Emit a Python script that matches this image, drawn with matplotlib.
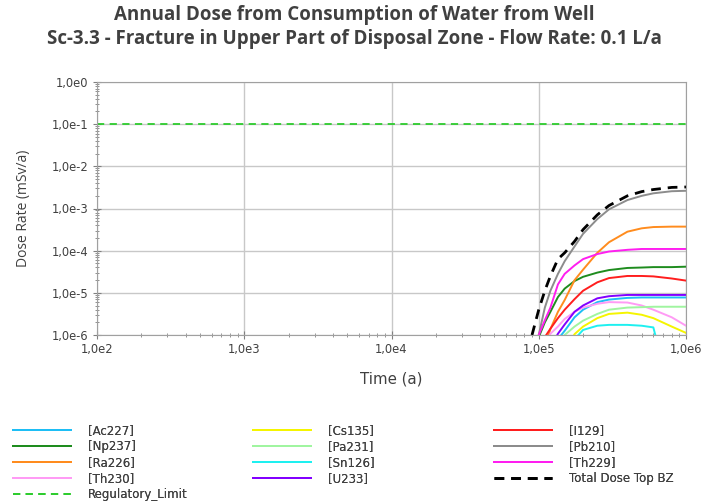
import numpy as np
import matplotlib
matplotlib.use('Agg')
import matplotlib.pyplot as plt
from matplotlib.ticker import LogLocator, FuncFormatter, NullFormatter

# ── Data (exponents of 10) ──────────────────────────────────────────────────
time_a = [9.0e4, 1.0e5, 1.1e5, 1.2e5, 1.35e5, 1.5e5, 1.75e5, 2.0e5,
          2.5e5, 3.0e5, 4.0e5, 5.0e5, 6.0e5, 8.0e5, 1.0e6]

ac227_log = [-9, -8, -7.5, -6.5, -6.1, -5.9, -5.58, -5.4, -5.22, -5.16, -5.12, -5.11, -5.11, -5.11, -5.11]
np237_log = [-7, -6.05, -5.7, -5.45, -5.1, -4.9, -4.72, -4.62, -4.52, -4.46, -4.41, -4.4, -4.39, -4.39, -4.38]
ra226_log = [-8, -7, -6.3, -5.86, -5.45, -5.17, -4.7, -4.45, -4.05, -3.8, -3.55, -3.47, -3.44, -3.43, -3.43]
th230_log = [-9, -8, -6.4, -5.97, -5.8, -5.62, -5.45, -5.35, -5.26, -5.22, -5.23, -5.3, -5.4, -5.58, -5.78]
cs135_log = [-9, -9, -9, -9, -8, -6.4, -5.98, -5.8, -5.6, -5.5, -5.47, -5.52, -5.6, -5.8, -5.95]
pa231_log = [-9, -9, -9, -8, -6.5, -6.0, -5.8, -5.66, -5.5, -5.4, -5.35, -5.34, -5.33, -5.33, -5.33]
sn126_log = [-9, -9, -9, -9, -9, -8, -6.1, -5.88, -5.78, -5.76, -5.76, -5.78, -5.82, -7.5, -9]
u233_log = [-9, -8, -7.5, -6.3, -5.97, -5.75, -5.45, -5.3, -5.13, -5.08, -5.05, -5.05, -5.05, -5.05, -5.05]
i129_log = [-8, -7, -6.05, -5.85, -5.6, -5.4, -5.15, -4.95, -4.75, -4.65, -4.6, -4.6, -4.61, -4.66, -4.71]
pb210_log = [-6.6, -6.0, -5.35, -4.95, -4.55, -4.25, -3.9, -3.6, -3.25, -3.02, -2.8, -2.7, -2.64, -2.59, -2.58]
th229_log = [-7, -6.0, -5.65, -5.35, -4.8, -4.55, -4.35, -4.2, -4.08, -4.02, -3.98, -3.96, -3.96, -3.96, -3.96]
total_log = [-6.0, -5.4, -4.95, -4.6, -4.2, -4.05, -3.78, -3.5, -3.15, -2.93, -2.7, -2.6, -2.55, -2.5, -2.49]

regulatory_limit = 0.1

series = [
    ("[Ac227]", ac227_log, "#1EBEF5"),
    ("[Np237]", np237_log, "#1E8C1E"),
    ("[Ra226]", ra226_log, "#FF8C1E"),
    ("[Th230]", th230_log, "#FF9BF5"),
    ("[Cs135]", cs135_log, "#F5F500"),
    ("[Pa231]", pa231_log, "#A0F5A0"),
    ("[Sn126]", sn126_log, "#1EF0F0"),
    ("[U233]", u233_log, "#8200FF"),
    ("[I129]", i129_log, "#FF1E1E"),
    ("[Pb210]", pb210_log, "#8C8C8C"),
    ("[Th229]", th229_log, "#FF1EF0"),
]

# ── Styling ──────────────────────────────────────────────────────────────────
text_color = "#404040"
grid_color = "#C8C8C8"
plt.rcParams['font.family'] = ['DejaVu Sans']

fig = plt.figure(figsize=(7.05, 5.01), dpi=100)
ax = fig.add_axes([97 / 705, 1 - 335 / 501, (686 - 97) / 705, (335 - 82) / 501])

handles = {}
for name, vals, color in series:
    h, = ax.plot(time_a, 10 ** np.array(vals), color=color, linewidth=1.4)
    handles[name] = h

h_total, = ax.plot(time_a, 10 ** np.array(total_log), color="black",
                   linewidth=2.0, dashes=(3.5, 2.5))
h_reg = ax.axhline(regulatory_limit, color="#2ECC2E", linewidth=1.3, dashes=(4, 3))

ax.set_xscale('log')
ax.set_yscale('log')
ax.set_xlim(1e2, 1e6)
ax.set_ylim(1e-6, 1e0)

fmt = FuncFormatter(lambda v, p: f"1,0e{int(round(np.log10(v)))}")
ax.xaxis.set_major_formatter(fmt)
ax.yaxis.set_major_formatter(fmt)
ax.xaxis.set_minor_locator(LogLocator(base=10, subs=np.arange(2, 10), numticks=20))
ax.yaxis.set_minor_locator(LogLocator(base=10, subs=np.arange(2, 10), numticks=20))
ax.xaxis.set_minor_formatter(NullFormatter())
ax.yaxis.set_minor_formatter(NullFormatter())
ax.tick_params(which='major', direction='inout', length=6, color="#808080",
               labelsize=8.3, labelcolor=text_color, pad=3)
ax.tick_params(which='minor', direction='inout', length=3, color="#808080")
ax.grid(True, which='major', color=grid_color, linewidth=1.0)
for s in ax.spines.values():
    s.set_color("#A0A0A0")

ax.set_xlabel("Time (a)", fontsize=10.8, color=text_color, labelpad=11)
ax.set_ylabel("Dose Rate (mSv/a)", fontsize=10, color=text_color, labelpad=15,
              family='Open Sans')

fig.text(0.503, 0.971, "Annual Dose from Consumption of Water from Well",
         ha='center', va='center', fontsize=13.5, fontweight='bold',
         color=text_color, family='Open Sans')
fig.text(0.503, 0.923, "Sc-3.3 - Fracture in Upper Part of Disposal Zone - Flow Rate: 0.1 L/a",
         ha='center', va='center', fontsize=13.5, fontweight='bold',
         color=text_color, family='Open Sans')

# ── Legend: three fixed columns ──────────────────────────────────────────────
columns = [
    (["[Ac227]", "[Np237]", "[Ra226]", "[Th230]"], [h_reg], ["Regulatory_Limit"], 8),
    (["[Cs135]", "[Pa231]", "[Sn126]", "[U233]"], [], [], 248),
    (["[I129]", "[Pb210]", "[Th229]"], [h_total], ["Total Dose Top BZ"], 489),
]
for names, extra_h, extra_l, x0 in columns:
    hs = [handles[n] for n in names] + extra_h
    ls = names + extra_l
    leg = fig.legend(hs, ls, loc='upper left', bbox_to_anchor=(x0 / 705, 1 - 419 / 501),
                     frameon=False, fontsize=8.5, handlelength=4.9, handletextpad=1.45,
                     labelspacing=0.26, borderaxespad=0, labelcolor=text_color)
    fig.add_artist(leg)

fig.savefig("out.png", dpi=100)
